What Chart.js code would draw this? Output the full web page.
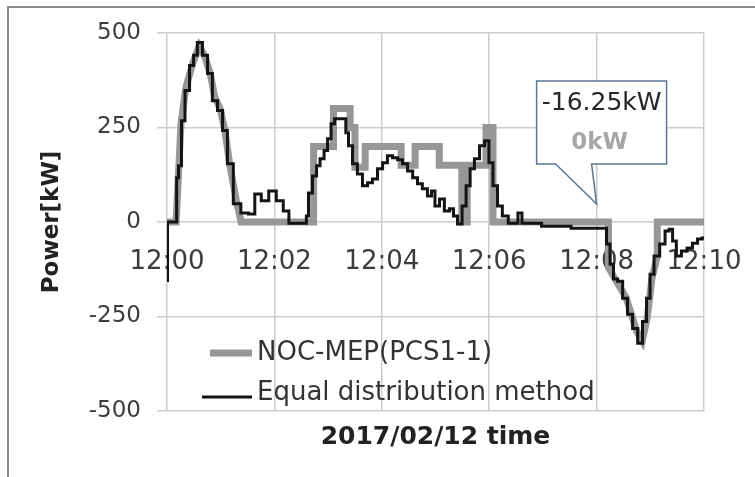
<!DOCTYPE html>
<html>
<head>
<meta charset="utf-8">
<script src="https://cdn.jsdelivr.net/npm/chart.js@4.4.1/dist/chart.umd.min.js"></script>
<style>
  html, body { margin: 0; padding: 0; background: #ffffff; }
  #wrap { width: 755px; height: 477px; position: relative; }
</style>
</head>
<body>
<div id="wrap"><canvas id="c" width="755" height="477"></canvas></div>
<script>
// Time is in minutes after 12:00, power in kW.
const eqTime = [0.00, 0.02, 0.17, 0.19, 0.24, 0.30, 0.37, 0.47, 0.52, 0.61, 0.71, 0.80, 0.89, 0.99, 1.08, 1.17, 1.30, 1.45, 1.58, 1.69,
  1.82, 1.97, 2.10, 2.23, 2.31, 2.58, 2.61, 2.66, 2.76, 2.81, 2.89, 2.96, 3.02, 3.09, 3.15, 3.31, 3.35, 3.41, 3.50, 3.59,
  3.69, 3.78, 3.87, 3.97, 4.06, 4.15, 4.25, 4.34, 4.43, 4.53, 4.62, 4.71, 4.80, 4.90, 4.95, 5.03, 5.12, 5.21, 5.31, 5.36,
  5.46, 5.53, 5.61, 5.68, 5.77, 5.87, 5.96, 6.03, 6.11, 6.20, 6.29, 6.42, 6.50, 6.57, 6.65, 7.30, 7.75, 8.16, 8.21, 8.29,
  8.34, 8.44, 8.53, 8.62, 8.72, 8.81, 8.90, 8.96, 9.03, 9.11, 9.24, 9.31, 9.39, 9.44, 9.53, 9.63, 9.74, 9.83, 9.93, 10.00];
const eqPower = [-155, 0, 0, 117, 149, 268, 348, 414, 441, 475, 441, 393, 321, 295, 242, 154, 48, 24, 21, 74,
  56, 82, 56, 29, -3, -3, 16, 77, 122, 149, 167, 189, 220, 260, 273, 273, 236, 202, 154, 127,
  96, 104, 114, 141, 157, 175, 170, 165, 154, 135, 117, 101, 88, 69, 82, 42, 61, 29, 35, 16,
  -5, 42, 96, 141, 167, 202, 215, 157, 96, 42, 16, -3, -3, 24, -3, -11, -16.25, -16.25, -58, -112,
  -151, -157, -202, -244, -282, -321, -263, -202, -138, -90, -58, -24, -19, -50, -90, -77, -69, -56, -45, -42];

const nocTime = [0.00, 0.17, 0.26, 0.35, 0.48, 0.60, 0.70, 0.80, 0.89, 0.99, 1.08, 1.17, 1.30, 1.38,
  2.73, 2.73, 3.10, 3.10, 3.41, 3.41, 3.50, 3.50, 3.69, 3.69, 4.36, 4.36, 4.62, 4.62, 5.07, 5.07,
  5.49, 5.49, 5.59, 5.59, 5.94, 5.94, 6.07, 6.07, 8.22, 8.22, 8.36, 8.55, 8.66, 8.75, 8.85, 8.94,
  9.03, 9.13, 9.13, 10.00];
const nocPower = [0, 0, 260, 355, 420, 465, 440, 395, 330, 300, 240, 150, 50, 0,
  0, 200, 200, 300, 300, 250, 250, 145, 145, 200, 200, 150, 150, 200, 200, 150,
  150, 0, 0, 150, 150, 250, 250, 0, 0, -120, -155, -200, -250, -290, -315, -255,
  -150, -90, 0, 0];

const seriesNames = ['NOC-MEP(PCS1-1)', 'Equal distribution method'];
const timeTickValues = [0, 2, 4, 6, 8, 10];
const timeTickLabels = ['12:00', '12:02', '12:04', '12:06', '12:08', '12:10'];
const powerTicks = [-500, -250, 0, 250, 500];
const calloutTime = 8; // 12:08

const NOC_COLOR = '#979797';
const EQ_COLOR = '#141414';
const GRID = '#cdcdcd';
const FONT = 'DejaVu Sans';

function toPoints(xs, ys) { return xs.map((x, i) => ({ x: x, y: ys[i] })); }
// value of a series at time t (last sample not later than t)
function valueAt(xs, ys, t) {
  let v = ys[0];
  for (let i = 0; i < xs.length; i++) { if (xs[i] <= t) v = ys[i]; }
  return v;
}
function fmt(v) { return (Number.isInteger(v) ? String(v) : v.toFixed(2)) + 'kW'; }

const framePlugin = {
  id: 'frame',
  beforeDraw(chart) {
    const ctx = chart.ctx;
    ctx.save();
    ctx.strokeStyle = '#8c8c8c';
    ctx.lineWidth = 2;
    ctx.beginPath();
    ctx.moveTo(8, chart.height);
    ctx.lineTo(8, 7);
    ctx.lineTo(chart.width, 7);
    ctx.stroke();
    ctx.restore();
  }
};

const overlayPlugin = {
  id: 'overlay',
  afterDatasetsDraw(chart) {
    const ctx = chart.ctx;
    const ca = chart.chartArea;
    const xs = chart.scales.x, ys = chart.scales.y;
    ctx.save();

    // legend inside the plot area
    ctx.lineCap = 'butt';
    ctx.strokeStyle = NOC_COLOR;
    ctx.lineWidth = 7;
    ctx.beginPath();
    ctx.moveTo(ca.left + 43, ca.bottom - 58);
    ctx.lineTo(ca.left + 85, ca.bottom - 58);
    ctx.stroke();
    ctx.strokeStyle = EQ_COLOR;
    ctx.lineWidth = 3;
    ctx.beginPath();
    ctx.moveTo(ca.left + 35, ca.bottom - 14);
    ctx.lineTo(ca.left + 85, ca.bottom - 14);
    ctx.stroke();
    ctx.fillStyle = '#333333';
    ctx.font = '26px "' + FONT + '"';
    ctx.textAlign = 'left';
    ctx.textBaseline = 'middle';
    ctx.fillText(seriesNames[0], ca.left + 90, ca.bottom - 58);
    ctx.fillText(seriesNames[1], ca.left + 90, ca.bottom - 18);

    // callout pointing at 12:08
    const tx = xs.getPixelForValue(calloutTime);
    const ty = ys.getPixelForValue(0) - 18;
    const L = tx - 60, R = tx + 70, T = ty - 123, B = ty - 40;
    ctx.beginPath();
    ctx.moveTo(L, T);
    ctx.lineTo(R, T);
    ctx.lineTo(R, B);
    ctx.lineTo(tx - 5, B);
    ctx.lineTo(tx, ty);
    ctx.lineTo(tx - 41, B);
    ctx.lineTo(L, B);
    ctx.closePath();
    ctx.fillStyle = '#ffffff';
    ctx.fill();
    ctx.strokeStyle = '#5d7594';
    ctx.lineWidth = 1.5;
    ctx.stroke();
    const cx = (L + R) / 2;
    ctx.textAlign = 'center';
    ctx.fillStyle = '#262626';
    ctx.font = '25px "' + FONT + '"';
    ctx.fillText(fmt(valueAt(eqTime, eqPower, calloutTime)), cx, T + 22);
    ctx.fillStyle = '#a6a6a6';
    ctx.font = 'bold 23px "' + FONT + '"';
    ctx.fillText(fmt(valueAt(nocTime, nocPower, calloutTime)), cx - 2, T + 62);
    ctx.restore();
  }
};

new Chart(document.getElementById('c'), {
  type: 'line',
  data: {
    datasets: [
      {
        label: seriesNames[1],
        data: toPoints(eqTime, eqPower),
        borderColor: EQ_COLOR,
        borderWidth: 3,
        stepped: 'middle',
        pointRadius: 0,
        fill: false,
        order: 0
      },
      {
        label: seriesNames[0],
        data: toPoints(nocTime, nocPower),
        borderColor: NOC_COLOR,
        borderWidth: 7,
        pointRadius: 0,
        fill: false,
        order: 1
      }
    ]
  },
  options: {
    responsive: false,
    animation: false,
    devicePixelRatio: 1,
    layout: { padding: { left: 0, right: 51, top: 33, bottom: 25 } },
    plugins: {
      legend: { display: false },
      tooltip: { enabled: false },
      title: {
        display: true,
        position: 'bottom',
        fullSize: false,
        text: '2017/02/12 time',
        color: '#222222',
        font: { family: FONT, size: 25, weight: 'bold' },
        padding: { top: 11, bottom: 0 }
      }
    },
    scales: {
      x: {
        type: 'linear',
        min: 0,
        max: 10,
        position: { y: 0 },
        afterBuildTicks: s => { s.ticks = timeTickValues.map(v => ({ value: v })); },
        afterFit: s => { s.paddingLeft = 0; s.paddingRight = 0; },
        ticks: {
          autoSkip: false,
          maxRotation: 0,
          padding: 25,
          color: '#3c3c3c',
          font: { family: FONT, size: 26 },
          callback: (v, i) => timeTickLabels[i]
        },
        grid: { color: GRID, lineWidth: 1.5, drawTicks: false },
        border: { display: false }
      },
      y: {
        min: -500,
        max: 500,
        afterBuildTicks: s => { s.ticks = powerTicks.map(v => ({ value: v })); },
        afterFit: s => { s.width = 167; s.paddingTop = 0; s.paddingBottom = 0; },
        ticks: {
          padding: 16,
          color: '#3c3c3c',
          font: { family: FONT, size: 23 },
          callback: (v, i) => String(powerTicks[i])
        },
        grid: { color: GRID, lineWidth: 1.5, tickLength: 10 },
        border: { display: false },
        title: {
          display: true,
          text: 'Power[kW]',
          color: '#222222',
          font: { family: FONT, size: 23, weight: 'bold' },
          padding: { top: 38, bottom: 0 }
        }
      }
    }
  },
  plugins: [framePlugin, overlayPlugin]
});
</script>
</body>
</html>
